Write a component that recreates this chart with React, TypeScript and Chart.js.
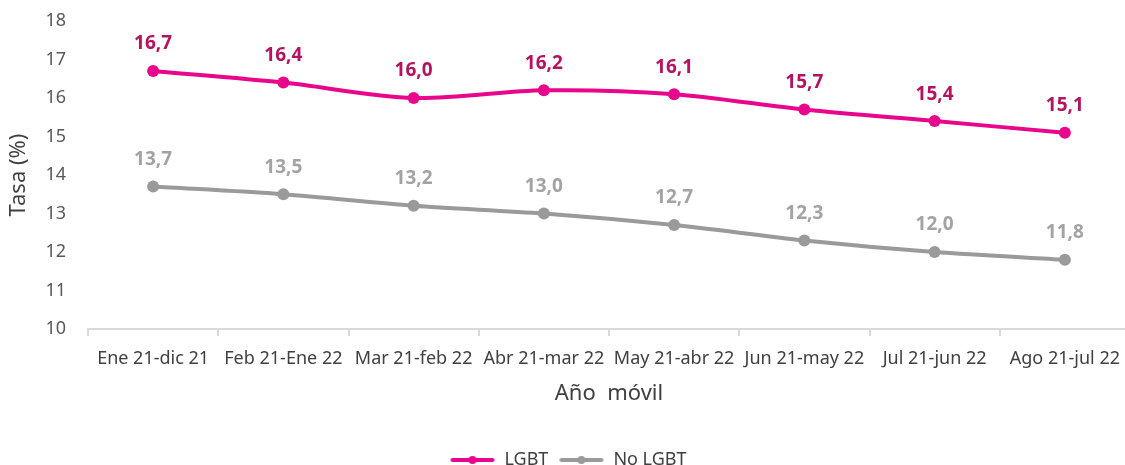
import React, { useEffect, useRef } from "react";
import { Chart, registerables } from "chart.js";

Chart.register(...registerables);

const categories = [
  "Ene 21-dic 21",
  "Feb 21-Ene 22",
  "Mar 21-feb 22",
  "Abr 21-mar 22",
  "May 21-abr 22",
  "Jun 21-may 22",
  "Jul 21-jun 22",
  "Ago 21-jul 22",
];
const lgbt = [16.7, 16.4, 16.0, 16.2, 16.1, 15.7, 15.4, 15.1];
const noLgbt = [13.7, 13.5, 13.2, 13.0, 12.7, 12.3, 12.0, 11.8];
const yTicks = [10, 11, 12, 13, 14, 15, 16, 17, 18];

const FONT = "'Noto Sans', 'Open Sans', sans-serif";
const PINK = "#e8068c";
const PINK_LABEL = "#b3135f";
const GRAY = "#9a9a9a";
const GRAY_LABEL = "#a3a3a3";

function legendIcon(color: string) {
  const c = document.createElement("canvas");
  c.width = 46;
  c.height = 12;
  const ctx = c.getContext("2d")!;
  ctx.strokeStyle = color;
  ctx.lineWidth = 4;
  ctx.lineCap = "round";
  ctx.beginPath();
  ctx.moveTo(3, 6);
  ctx.lineTo(43, 6);
  ctx.stroke();
  ctx.fillStyle = color;
  ctx.beginPath();
  ctx.arc(23, 6, 4, 0, Math.PI * 2);
  ctx.fill();
  return c;
}

const valueLabels = {
  id: "valueLabels",
  afterDatasetsDraw(chart: any) {
    const ctx = chart.ctx;
    ctx.save();
    ctx.font = `bold 19px ${FONT}`;
    ctx.textAlign = "center";
    ctx.textBaseline = "middle";
    chart.data.datasets.forEach((ds: any, i: number) => {
      const meta = chart.getDatasetMeta(i);
      ctx.fillStyle = ds.labelColor;
      meta.data.forEach((pt: any, j: number) => {
        const v = ds.data[j] as number;
        ctx.fillText(v.toFixed(1).replace(".", ","), pt.x, pt.y - 27);
      });
    });
    ctx.restore();
  },
};

export default function App() {
  const ref = useRef<HTMLCanvasElement>(null);
  useEffect(() => {
    const chart = new Chart(ref.current!, {
      type: "line",
      data: {
        labels: categories,
        datasets: [
          {
            label: "LGBT",
            data: lgbt,
            borderColor: PINK,
            backgroundColor: PINK,
            borderWidth: 4,
            pointRadius: 6,
            pointBackgroundColor: PINK,
            pointBorderWidth: 0,
            tension: 0.3,
            labelColor: PINK_LABEL,
          } as any,
          {
            label: "No LGBT",
            data: noLgbt,
            borderColor: GRAY,
            backgroundColor: GRAY,
            borderWidth: 4,
            pointRadius: 6,
            pointBackgroundColor: GRAY,
            pointBorderWidth: 0,
            tension: 0.3,
            labelColor: GRAY_LABEL,
          } as any,
        ],
      },
      options: {
        animation: false,
        responsive: false,
        maintainAspectRatio: false,
        layout: { padding: { top: 21, left: 0, right: 0, bottom: -14 } },
        plugins: {
          tooltip: { enabled: false },
          legend: {
            position: "bottom",
            align: "center",
            labels: {
              usePointStyle: true,
              pointStyleWidth: 46,
              boxHeight: 12,
              color: "#404040",
              font: { family: FONT, size: 18 },
              padding: 10,
              generateLabels: (ch: any) =>
                ch.data.datasets.map((ds: any, i: number) => ({
                  text: ds.label,
                  fillStyle: ds.borderColor,
                  strokeStyle: ds.borderColor,
                  pointStyle: legendIcon(ds.borderColor),
                  fontColor: "#404040",
                  datasetIndex: i,
                  lineWidth: 0,
                })),
            },
          },
        },
        scales: {
          x: {
            offset: true,
            grid: {
              display: true,
              offset: true,
              drawOnChartArea: false,
              drawTicks: true,
              tickLength: 7,
              color: "#d9d9d9",
              lineWidth: 2,
            },
            border: { display: true, color: "#d9d9d9", width: 2 },
            ticks: {
              color: "#404040",
              font: { family: FONT, size: 18 },
              padding: 12,
              maxRotation: 0,
              autoSkip: false,
            },
            title: {
              display: true,
              text: "Año  móvil",
              color: "#404040",
              font: { family: FONT, size: 22 },
              padding: { top: 4, bottom: 34 },
            },
            afterFit: (s: any) => {
              s.height = 112;
            },
          },
          y: {
            min: 10,
            max: 18,
            afterBuildTicks: (s: any) => {
              s.ticks = yTicks.map((v) => ({ value: v }));
            },
            grid: {
              display: true,
              drawOnChartArea: false,
              drawTicks: true,
              tickLength: 20,
              color: "rgba(0,0,0,0)",
            },
            border: { display: false },
            ticks: {
              color: "#595959",
              font: { family: FONT, size: 18 },
              padding: 2,
            },
            title: {
              display: true,
              text: "Tasa (%)",
              color: "#404040",
              font: { family: FONT, size: 22 },
              padding: { top: 6, bottom: 0 },
            },
            afterFit: (s: any) => {
              s.width = 88;
            },
          },
        },
      },
      plugins: [valueLabels],
    });
    return () => chart.destroy();
  }, []);
  return (
    <div
      style={{
        position: "fixed",
        left: 0,
        top: 0,
        width: 1125,
        height: 465,
        overflow: "hidden",
        background: "#fff",
      }}
    >
      <canvas ref={ref} width={1136} height={465} style={{ display: "block" }} />
    </div>
  );
}
